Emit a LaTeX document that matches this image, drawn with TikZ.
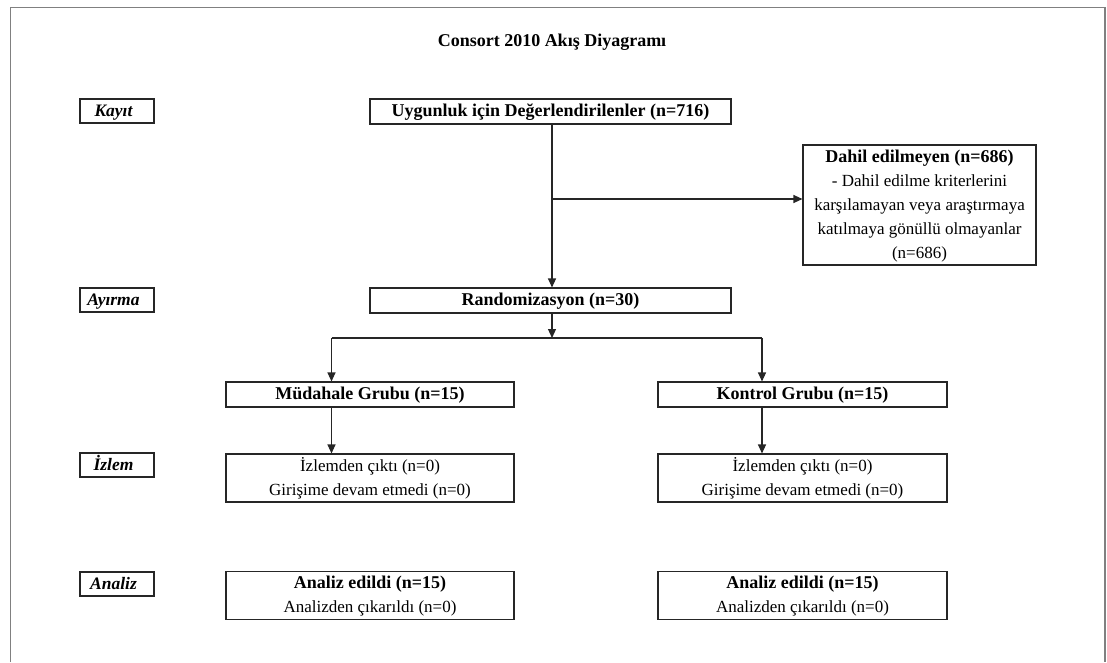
\documentclass[tikz,border=0pt]{standalone}
\usepackage{fontspec}
\setmainfont{Liberation Serif}
\usetikzlibrary{arrows.meta}

% fixed line strut: 17pt above, 7pt below the baseline
\newcommand\ls{\rule[-7pt]{0pt}{24pt}}

\tikzset{
  reg/.style={font=\fontsize{17}{24}\selectfont},
  hdr/.style={font=\fontsize{18}{24}\selectfont\bfseries},
  box/.style={draw=black!85, line width=1.1pt, rectangle, inner sep=0pt,
    align=center, reg, text=black},
  stage/.style={box, minimum width=74pt, minimum height=24pt,
    font=\fontsize{17.5}{24}\selectfont\bfseries\itshape,
    execute at end node={\hspace*{7pt}}},
  wide/.style={box, minimum width=361pt, minimum height=25pt, hdr},
  arm/.style={box, minimum width=288pt},
  flow/.style={draw=black!85, line width=1.1pt},
  arrow/.style={flow, -{Triangle[length=9pt,width=8pt]}},
  frame/.style={draw=black!50, line width=1.2pt}
}

\begin{document}
\begin{tikzpicture}[x=1pt, y=-1pt]
\useasboundingbox (0,0) rectangle (1107,662);

% outer frame, open at the bottom
\draw[frame] (10.5,662) -- (10.5,7.5) -- (1105,7.5) -- (1105,662);

% title
\node[hdr] (title) at (552,42) {Consort 2010 Akış Diyagramı};

% stage labels
\node[stage] (kayit)  at (117,111) {\ls Kayıt};
\node[stage] (ayirma) at (117,300) {\ls Ayırma};
\node[stage] (izlem)  at (117,465) {\ls İzlem};
\node[stage] (analiz) at (117,584) {\ls Analiz};

% enrolment and allocation
\node[wide] (uyg)  at (550.5,111.5) {\ls Uygunluk için Değerlendirilenler (n=716)};
\node[wide] (rand) at (550.5,300.5) {\ls Randomizasyon (n=30)};
\node[box, minimum width=233pt, minimum height=117pt] (dahil) at (919.5,205)
  {\ls{\fontsize{18}{24}\selectfont\bfseries Dahil edilmeyen (n=686)}\\
   \ls - Dahil edilme kriterlerini\\
   \ls karşılamayan veya araştırmaya\\
   \ls katılmaya gönüllü olmayanlar\\
   \ls (n=686)};

% groups
\node[arm, minimum height=25pt, hdr] (mud) at (370,394.5)
  {\ls Müdahale Grubu (n=15)};
\node[arm, minimum width=289pt, minimum height=25pt, hdr] (kon) at (802.5,394.5)
  {\ls Kontrol Grubu (n=15)};

% follow-up
\node[arm, minimum height=48pt] (izl1) at (370,478)
  {\ls İzlemden çıktı (n=0)\\\ls Girişime devam etmedi (n=0)};
\node[arm, minimum width=289pt, minimum height=48pt] (izl2) at (802.5,478)
  {\ls İzlemden çıktı (n=0)\\\ls Girişime devam etmedi (n=0)};

% analysis
\node[arm, minimum height=47pt] (an1) at (370,595.5)
  {\ls{\fontsize{18}{24}\selectfont\bfseries Analiz edildi (n=15)}\\\ls Analizden çıkarıldı (n=0)};
\node[arm, minimum width=289pt, minimum height=47pt] (an2) at (802.5,595.5)
  {\ls{\fontsize{18}{24}\selectfont\bfseries Analiz edildi (n=15)}\\\ls Analizden çıkarıldı (n=0)};

% branching points
\coordinate (br)    at (552,199);
\coordinate (split) at (552,338);
\coordinate (lx)    at (331.5,0);
\coordinate (rx)    at (762,0);

% connectors
\draw[arrow] (uyg.south -| br) -- (rand.north -| br);
\draw[arrow] (br) -- (dahil.west |- br);
\draw[arrow] (rand.south -| split) -- (split);
\draw[flow] (split -| lx) -- (split -| rx);
\draw[arrow] (split -| lx) -- (mud.north -| lx);
\draw[arrow] (split -| rx) -- (kon.north -| rx);
\draw[arrow] (mud.south -| lx) -- (izl1.north -| lx);
\draw[arrow] (kon.south -| rx) -- (izl2.north -| rx);
\end{tikzpicture}
\end{document}
